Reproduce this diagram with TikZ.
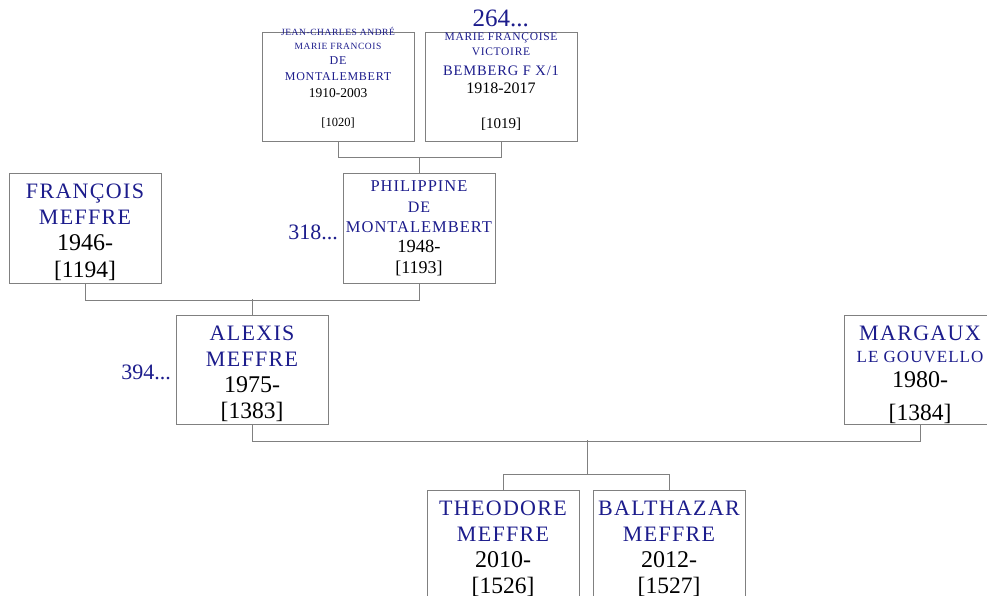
\documentclass[tikz,border=0pt]{standalone}
\usepackage{fontspec}
\setmainfont{Liberation Serif}
\newfontfamily\namefont[LetterSpace=6]{Liberation Serif}
\definecolor{navy}{RGB}{28,28,140}
\definecolor{boxgray}{RGB}{128,128,128}
\tikzset{
  box/.style={draw=boxgray, line width=1pt, anchor=north west, inner sep=0pt},
  conn/.style={draw=boxgray, line width=1pt},
  nm/.style={anchor=base, text=navy, inner sep=0pt, font=\namefont\fontsize{#1}{#1}\selectfont},
  dt/.style={anchor=base, text=black, inner sep=0pt, font=\fontsize{#1}{#1}\selectfont},
  num/.style={anchor=base east, text=navy, inner sep=0pt, font=\fontsize{#1}{#1}\selectfont}
}
\begin{document}
\begin{tikzpicture}[x=1pt,y=-1pt]
\useasboundingbox (0,0) rectangle (987,596);
\clip (0,0) rectangle (987,596);
% boxes
\node[box, minimum width=152pt, minimum height=109pt] (jca) at (262,32) {};
\node[box, minimum width=152pt, minimum height=109pt] (mfv) at (425,32) {};
\node[box, minimum width=152pt, minimum height=110pt] (fra) at (9,173) {};
\node[box, minimum width=152pt, minimum height=110pt] (phi) at (343,173) {};
\node[box, minimum width=152pt, minimum height=109pt] (ale) at (176,315) {};
\node[box, minimum width=152pt, minimum height=109pt] (mar) at (844,315) {};
\node[box, minimum width=152pt, minimum height=120pt] (the) at (427,490) {};
\node[box, minimum width=152pt, minimum height=120pt] (bal) at (593,490) {};
% connectors
\draw[conn] (jca.south) -- ++(0,16) -| (mfv.south);
\draw[conn] (phi.north) -- ++(0,-16);
\draw[conn] (fra.south) -- ++(0,16) -| (phi.south);
\draw[conn] (ale.north) -- ++(0,-16);
\draw[conn] (ale.south) -- ++(0,16) -| (mar.south);
\coordinate (mid) at (587,440);
\coordinate (sib) at (587,474);
\draw[conn] (mid) -- (sib);
\draw[conn] (the.north) -- ++(0,-16) -| (bal.north);
% JCA
\node[nm=9.5] (jca1) at (338,36) {JEAN-CHARLES ANDRÉ};
\node[nm=9.5] (jca2) at (338,50) {MARIE FRANCOIS};
\node[nm=12] (jca3) at (338,65) {DE};
\node[nm=12] (jca4) at (338,81) {MONTALEMBERT};
\node[dt=13.5] (jca5) at (338,98) {1910-2003};
\node[dt=12.5] (jca6) at (338,127) {[1020]};
% MFV
\node[num=25] (n264) at (529,27) {264...};
\node[nm=11.5] (mfv1) at (501,41) {MARIE FRANÇOISE};
\node[nm=11.5] (mfv2) at (501,56) {VICTOIRE};
\node[nm=14.5] (mfv3) at (501,76) {BEMBERG F X/1};
\node[dt=16] (mfv4) at (501,94) {1918-2017};
\node[dt=15] (mfv5) at (501,129) {[1019]};
% Francois
\node[nm=22] (fra1) at (85,198) {FRANÇOIS};
\node[nm=22] (fra2) at (85,224) {MEFFRE};
\node[dt=24] (fra3) at (85,250) {1946-};
\node[dt=23.5] (fra4) at (85,277) {[1194]};
% Philippine
\node[num=22] (n318) at (338,239) {318...};
\node[nm=16.5] (phi1) at (419,192) {PHILIPPINE};
\node[nm=16] (phi2) at (419,212) {DE};
\node[nm=16.5] (phi3) at (419,232) {MONTALEMBERT};
\node[dt=18.5] (phi4) at (419,252) {1948-};
\node[dt=18] (phi5) at (419,273) {[1193]};
% Alexis
\node[num=22] (n394) at (171,379) {394...};
\node[nm=22] (ale1) at (252,340) {ALEXIS};
\node[nm=22] (ale2) at (252,366) {MEFFRE};
\node[dt=24] (ale3) at (252,392) {1975-};
\node[dt=23.5] (ale4) at (252,418) {[1383]};
% Margaux
\node[nm=22] (mar1) at (920,340) {MARGAUX};
\node[nm=17] (mar2) at (920,362) {LE GOUVELLO};
\node[dt=24] (mar3) at (920,387) {1980-};
\node[dt=23.5] (mar4) at (920,420) {[1384]};
% Theodore
\node[nm=22] (the1) at (503,515) {THEODORE};
\node[nm=22] (the2) at (503,541) {MEFFRE};
\node[dt=24] (the3) at (503,567) {2010-};
\node[dt=23.5] (the4) at (503,593) {[1526]};
% Balthazar
\node[nm=22] (bal1) at (669,515) {BALTHAZAR};
\node[nm=22] (bal2) at (669,541) {MEFFRE};
\node[dt=24] (bal3) at (669,567) {2012-};
\node[dt=23.5] (bal4) at (669,593) {[1527]};
\end{tikzpicture}
\end{document}
